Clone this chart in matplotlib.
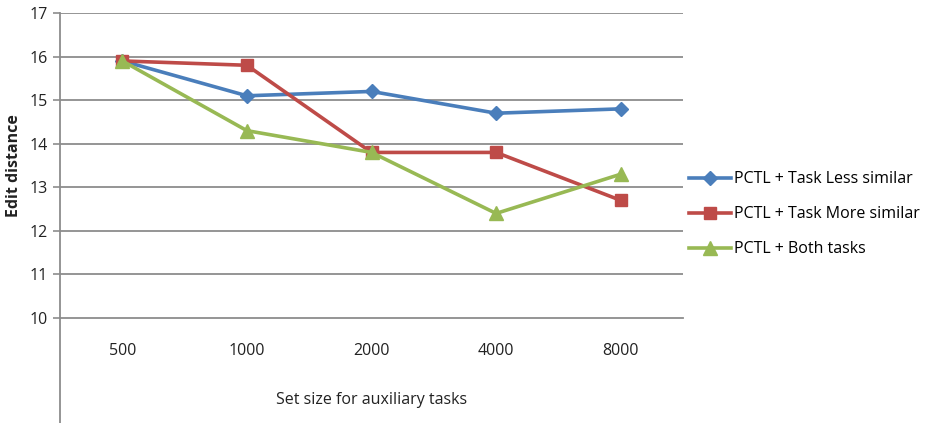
import matplotlib
matplotlib.use("Agg")
import matplotlib.pyplot as plt
from matplotlib.lines import Line2D

categories = ["500", "1000", "2000", "4000", "8000"]
less_similar = [15.9, 15.1, 15.2, 14.7, 14.8]
more_similar = [15.9, 15.8, 13.8, 13.8, 12.7]
both_tasks = [15.9, 14.3, 13.8, 12.4, 13.3]
series_names = ["PCTL + Task Less similar", "PCTL + Task More similar", "PCTL + Both tasks"]
y_ticks = [10, 11, 12, 13, 14, 15, 16, 17]

plt.rcParams['font.family'] = ['Open Sans', 'DejaVu Sans']
W, H = 934, 423
fig = plt.figure(figsize=(W / 100, H / 100), dpi=100)
ax = fig.add_axes([60 / W, (H - 318) / H, 623 / W, 305 / H])

grid_c = "#8c8c8c"
x = list(range(len(categories)))
ax.plot(x, less_similar, color="#4A7EBB", lw=2.6, marker="D", ms=7, label=series_names[0], zorder=3)
ax.plot(x, more_similar, color="#BE4B48", lw=2.6, marker="s", ms=9, label=series_names[1], zorder=4)
ax.plot(x, both_tasks, color="#98B954", lw=2.6, marker="^", ms=10, label=series_names[2], zorder=5)

ax.set_xlim(-0.5, len(categories) - 0.5)
ax.set_ylim(10, 17)
ax.set_yticks(y_ticks)
ax.set_yticklabels([str(v) for v in y_ticks], fontsize=11.5, color="#222222")
ax.set_xticks(x)
ax.set_xticklabels(categories, fontsize=11.5, color="#222222")
ax.tick_params(axis="x", length=0, pad=18)
ax.tick_params(axis="y", length=5, width=1.2, color=grid_c, pad=4)

for v in y_ticks[1:]:
    ax.axhline(v, color=grid_c, lw=1.3, zorder=1)
for s in ["top", "right"]:
    ax.spines[s].set_visible(False)
ax.spines["bottom"].set_color(grid_c)
ax.spines["bottom"].set_linewidth(1.3)
ax.spines["left"].set_color(grid_c)
ax.spines["left"].set_linewidth(1.3)
ax.add_line(Line2D([0, 0], [0, -110 / 305], transform=ax.transAxes, color=grid_c,
                   lw=1.3, clip_on=False))

ax.set_xlabel("Set size for auxiliary tasks", fontsize=11.5, color="#222222", labelpad=24)
ax.set_ylabel("Edit distance", fontsize=11.5, fontweight="bold", color="#222222", labelpad=5)

ax.legend(loc="center left", bbox_to_anchor=(1.0, 0.34), frameon=False,
          fontsize=11.5, handlelength=2.6, handletextpad=0.2, labelspacing=1.2,
          borderaxespad=0.2, borderpad=0.2)

fig.savefig("out.png", dpi=100)
